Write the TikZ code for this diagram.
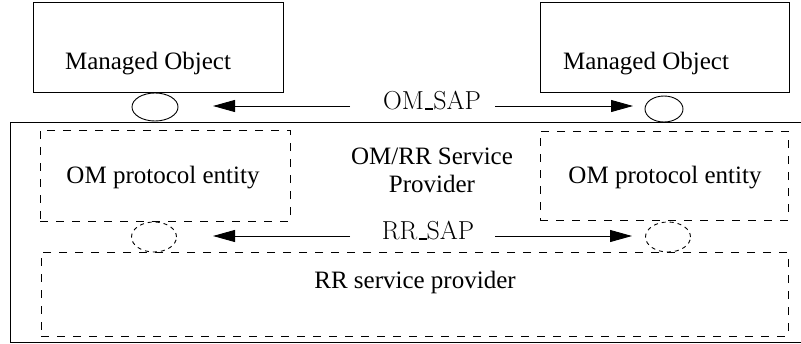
\documentclass[tikz,border=0pt]{standalone}
\usepackage{fontspec}
\newfontfamily\tnr{Liberation Serif}
\usetikzlibrary{arrows.meta,shapes.geometric}
\newcommand{\myus}{\kern.06em\rule{.3em}{1.6pt}}
\begin{document}
\begin{tikzpicture}[x=1pt,y=-1pt,
  solidbox/.style={draw,line width=0.9pt,rectangle,inner sep=0pt},
  dbox/.style={draw,line width=0.9pt,rectangle,inner sep=0pt,dash pattern=on 8pt off 8pt},
  port/.style={draw,ellipse,line width=0.9pt,inner sep=0pt},
  dport/.style={port,dash pattern=on 4pt off 4pt},
  lbl/.style={font=\tnr\fontsize{25}{28}\selectfont,align=center,inner sep=0pt},
  sap/.style={font=\fontsize{26}{30}\selectfont,inner sep=0pt},
  arr/.style={-{Triangle[length=22pt,width=12pt]},line width=0.9pt}]
\useasboundingbox (0,0) rectangle (801,343);
% outer box
\draw[line width=0.9pt] (10,122) rectangle (802,342);
% managed objects
\node[solidbox,minimum width=250pt,minimum height=90pt] (mol) at (158,47) {};
\node[lbl] (molt) at (148,64) {Managed Object};
\node[solidbox,minimum width=249pt,minimum height=90pt] (mor) at (664.5,47) {};
\node[lbl] (mort) at (646,64) {Managed Object};
% OM SAP ports
\node[port,minimum width=46pt,minimum height=28pt] (pl) at (155,107) {};
\node[port,minimum width=38pt,minimum height=26pt] (pr) at (664,109) {};
% OM protocol entities
\node[dbox,minimum width=250pt,minimum height=91pt] (pel) at (165,175.5) {};
\node[lbl] (pelt) at (163,178) {OM protocol entity};
\node[dbox,minimum width=248pt,minimum height=89pt] (per) at (664,175.5) {};
\node[lbl] (pert) at (665,178) {OM protocol entity};
% service provider label
\node[lbl] (sp) at (432,170) {OM/RR Service\\Provider};
% RR SAP ports
\node[dport,minimum width=45pt,minimum height=30pt] (rl) at (154,237) {};
\node[dport,minimum width=45pt,minimum height=30pt] (rr) at (668,237) {};
% RR service provider
\node[dbox,minimum width=747pt,minimum height=84pt] (rrsp) at (414.5,294) {};
\node[lbl] (rrspt) at (415,282) {RR service provider};
% SAP labels
\node[sap] (omsap) at (432,101) {OM\myus SAP};
\node[sap] (rrsap) at (428,231) {RR\myus SAP};
% arrows
\coordinate (a1s) at (350,106); \coordinate (a1e) at (213,106);
\coordinate (a2s) at (495,106); \coordinate (a2e) at (633,106);
\coordinate (a3s) at (350,236); \coordinate (a3e) at (213,236);
\coordinate (a4s) at (495,236); \coordinate (a4e) at (632,236);
\draw[arr] (a1s) -- (a1e);
\draw[arr] (a2s) -- (a2e);
\draw[arr] (a3s) -- (a3e);
\draw[arr] (a4s) -- (a4e);
\end{tikzpicture}
\end{document}
